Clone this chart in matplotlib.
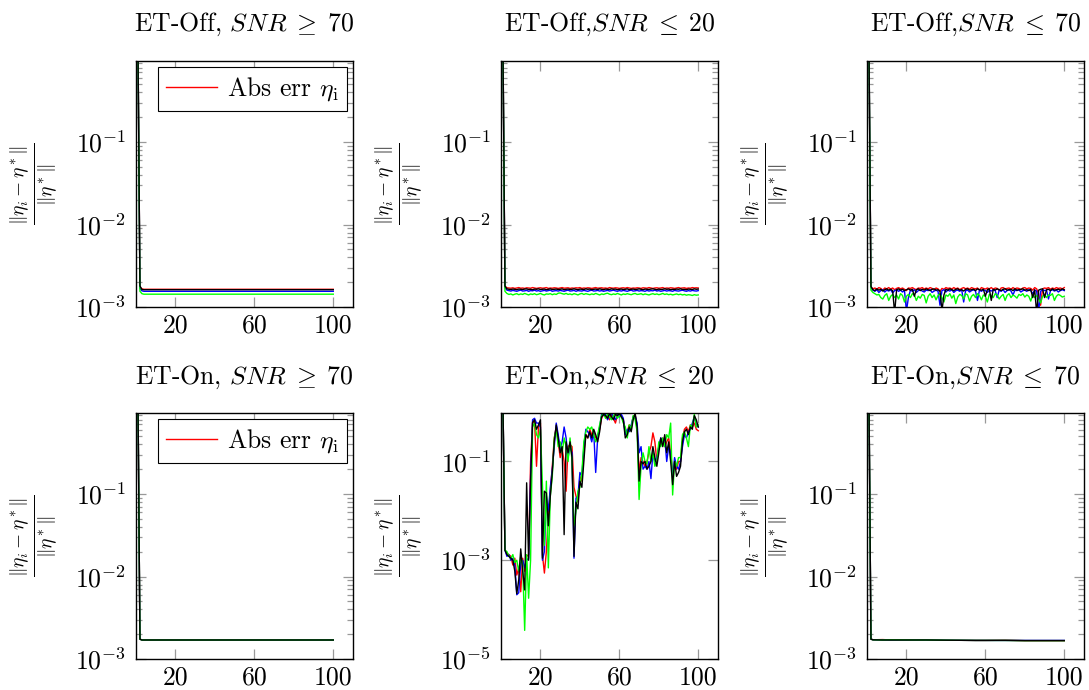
import numpy as np
import matplotlib.pyplot as plt
from matplotlib.ticker import LogLocator, NullLocator, NullFormatter

plt.rcParams['font.family'] = 'serif'
plt.rcParams['font.serif'] = ['cmr10']
plt.rcParams['mathtext.fontset'] = 'cm'
plt.rcParams['axes.formatter.use_mathtext'] = True
plt.rcParams['axes.unicode_minus'] = False

FS = 18.5
FS_LAB = 20

#----------------------------------------------------------------------
# data
#----------------------------------------------------------------------
iters = list(range(1, 101))
x_flat = [1, 2, 3, 4, 100]
x_br = [1, 2, 3, 8, 12, 25, 30, 40, 55, 60, 70, 80, 100]

# ET-Off, SNR >= 70
tl_red = [1.5, 1.75e-3, 1.66e-3, 1.64e-3, 1.64e-3]
tl_blue = [1.5, 1.68e-3, 1.57e-3, 1.55e-3, 1.55e-3]
tl_green = [1.5, 1.55e-3, 1.45e-3, 1.43e-3, 1.43e-3]
tl_black = [1.5, 1.80e-3, 1.63e-3, 1.62e-3, 1.62e-3]

# ET-On, SNR >= 70
bl_red = [1.5, 1.74e-3, 1.70e-3, 1.70e-3, 1.70e-3]
bl_blue = [1.5, 1.74e-3, 1.70e-3, 1.70e-3, 1.70e-3]
bl_green = [1.5, 1.74e-3, 1.70e-3, 1.70e-3, 1.70e-3]
bl_black = [1.5, 1.74e-3, 1.70e-3, 1.70e-3, 1.70e-3]

# ET-On, SNR <= 70
br_red = [1.5, 1.74e-3, 1.71e-3, 1.72e-3, 1.70e-3, 1.70e-3, 1.71e-3, 1.69e-3, 1.68e-3, 1.68e-3, 1.69e-3, 1.67e-3, 1.67e-3]
br_blue = [1.5, 1.74e-3, 1.71e-3, 1.70e-3, 1.70e-3, 1.70e-3, 1.70e-3, 1.69e-3, 1.68e-3, 1.68e-3, 1.68e-3, 1.68e-3, 1.68e-3]
br_green = [1.5, 1.74e-3, 1.71e-3, 1.70e-3, 1.71e-3, 1.70e-3, 1.70e-3, 1.69e-3, 1.68e-3, 1.68e-3, 1.68e-3, 1.67e-3, 1.67e-3]
br_black = [1.5, 1.74e-3, 1.71e-3, 1.70e-3, 1.70e-3, 1.70e-3, 1.70e-3, 1.69e-3, 1.68e-3, 1.68e-3, 1.68e-3, 1.67e-3, 1.67e-3]

# ET-Off, SNR <= 20  (values in units of 1e-3)
tm_red_m = [1500, 1.78, 1.71, 1.70, 1.69, 1.71, 1.68, 1.70, 1.72, 1.69,
            1.70, 1.68, 1.71, 1.70, 1.69, 1.72, 1.70, 1.68, 1.70, 1.71,
            1.69, 1.70, 1.72, 1.68, 1.70, 1.69, 1.71, 1.70, 1.68, 1.70,
            1.72, 1.69, 1.70, 1.71, 1.68, 1.70, 1.69, 1.71, 1.70, 1.72,
            1.68, 1.70, 1.69, 1.71, 1.70, 1.68, 1.70, 1.72, 1.69, 1.70,
            1.71, 1.69, 1.70, 1.68, 1.72, 1.70, 1.69, 1.71, 1.70, 1.68,
            1.70, 1.71, 1.69, 1.72, 1.70, 1.68, 1.70, 1.69, 1.71, 1.70,
            1.68, 1.71, 1.70, 1.69, 1.72, 1.70, 1.68, 1.70, 1.71, 1.69,
            1.70, 1.72, 1.68, 1.70, 1.69, 1.71, 1.70, 1.68, 1.70, 1.72,
            1.69, 1.70, 1.71, 1.68, 1.70, 1.69, 1.72, 1.70, 1.71, 1.70]
tm_black_m = [1500, 1.80, 1.66, 1.64, 1.63, 1.65, 1.64, 1.62, 1.65, 1.64,
              1.63, 1.65, 1.66, 1.63, 1.64, 1.62, 1.65, 1.64, 1.66, 1.63,
              1.64, 1.65, 1.62, 1.64, 1.66, 1.63, 1.64, 1.65, 1.63, 1.64,
              1.66, 1.62, 1.64, 1.65, 1.63, 1.64, 1.66, 1.64, 1.62, 1.65,
              1.64, 1.63, 1.66, 1.64, 1.65, 1.62, 1.64, 1.65, 1.63, 1.66,
              1.64, 1.62, 1.65, 1.64, 1.63, 1.66, 1.64, 1.65, 1.62, 1.64,
              1.65, 1.63, 1.64, 1.66, 1.62, 1.64, 1.65, 1.63, 1.64, 1.66,
              1.64, 1.62, 1.65, 1.64, 1.63, 1.65, 1.66, 1.64, 1.62, 1.65,
              1.63, 1.64, 1.66, 1.64, 1.65, 1.62, 1.64, 1.63, 1.65, 1.64,
              1.66, 1.63, 1.64, 1.62, 1.65, 1.64, 1.63, 1.66, 1.64, 1.65]
tm_blue_m = [1500, 1.72, 1.60, 1.58, 1.56, 1.59, 1.57, 1.55, 1.58, 1.60,
             1.56, 1.57, 1.59, 1.55, 1.58, 1.57, 1.60, 1.56, 1.58, 1.55,
             1.57, 1.59, 1.56, 1.58, 1.60, 1.55, 1.57, 1.58, 1.56, 1.59,
             1.57, 1.55, 1.58, 1.60, 1.56, 1.57, 1.59, 1.55, 1.58, 1.57,
             1.56, 1.59, 1.57, 1.55, 1.58, 1.60, 1.56, 1.57, 1.59, 1.56,
             1.58, 1.55, 1.57, 1.59, 1.56, 1.58, 1.60, 1.57, 1.55, 1.58,
             1.56, 1.59, 1.57, 1.55, 1.58, 1.60, 1.56, 1.57, 1.59, 1.56,
             1.58, 1.57, 1.55, 1.59, 1.56, 1.58, 1.57, 1.60, 1.56, 1.58,
             1.55, 1.57, 1.59, 1.56, 1.58, 1.57, 1.55, 1.59, 1.57, 1.56,
             1.58, 1.60, 1.57, 1.55, 1.58, 1.56, 1.59, 1.57, 1.56, 1.58]
tm_green_m = [1500, 1.55, 1.46, 1.42, 1.44, 1.40, 1.43, 1.45, 1.41, 1.44,
              1.42, 1.46, 1.43, 1.40, 1.44, 1.42, 1.45, 1.41, 1.43, 1.46,
              1.42, 1.40, 1.44, 1.43, 1.45, 1.41, 1.44, 1.42, 1.47, 1.48,
              1.45, 1.43, 1.46, 1.42, 1.44, 1.41, 1.45, 1.43, 1.40, 1.44,
              1.46, 1.42, 1.45, 1.43, 1.41, 1.44, 1.42, 1.46, 1.43, 1.40,
              1.44, 1.42, 1.45, 1.47, 1.43, 1.41, 1.44, 1.42, 1.46, 1.43,
              1.40, 1.44, 1.42, 1.45, 1.43, 1.41, 1.44, 1.46, 1.42, 1.43,
              1.45, 1.41, 1.44, 1.42, 1.40, 1.43, 1.45, 1.42, 1.44, 1.41,
              1.43, 1.46, 1.42, 1.44, 1.41, 1.43, 1.40, 1.42, 1.44, 1.41,
              1.43, 1.40, 1.42, 1.39, 1.41, 1.40, 1.38, 1.41, 1.39, 1.40]

# ET-Off, SNR <= 70  (values in units of 1e-3)
tr_red_m = [1500, 1.75, 1.66, 1.70, 1.64, 1.72, 1.68, 1.60, 1.70, 1.66,
            1.72, 1.65, 1.70, 1.62, 1.68, 1.72, 1.66, 1.70, 1.64, 1.58,
            1.70, 1.68, 1.72, 1.66, 1.62, 1.70, 1.68, 1.72, 1.65, 1.70,
            1.66, 1.72, 1.68, 1.60, 1.70, 1.66, 1.55, 1.68, 1.64, 1.72,
            1.68, 1.70, 1.65, 1.72, 1.66, 1.70, 1.62, 1.68, 1.72, 1.66,
            1.70, 1.64, 1.72, 1.68, 1.66, 1.70, 1.60, 1.72, 1.68, 1.65,
            1.70, 1.66, 1.72, 1.64, 1.70, 1.68, 1.58, 1.70, 1.72, 1.66,
            1.68, 1.70, 1.64, 1.72, 1.66, 1.70, 1.68, 1.62, 1.70, 1.72,
            1.66, 1.70, 1.68, 1.60, 1.72, 1.66, 1.45, 1.05, 1.66, 1.70,
            1.68, 1.72, 1.64, 1.70, 1.66, 1.72, 1.68, 1.70, 1.66, 1.72]
tr_blue_m = [1500, 1.72, 1.60, 1.55, 1.62, 1.50, 1.58, 1.62, 1.52, 1.60,
             1.56, 1.62, 1.48, 1.58, 1.62, 1.55, 1.60, 1.52, 1.58, 0.90,
             1.30, 1.60, 1.55, 1.62, 1.50, 1.58, 1.62, 1.56, 1.52, 1.60,
             1.58, 1.62, 1.50, 1.56, 1.60, 1.55, 1.05, 1.58, 1.62, 1.52,
             1.60, 1.56, 1.62, 1.50, 1.58, 1.60, 1.55, 1.62, 1.15, 1.58,
             1.60, 1.52, 1.58, 1.62, 1.56, 1.20, 1.60, 1.55, 1.62, 1.58,
             1.50, 1.60, 1.56, 1.62, 1.58, 1.30, 1.60, 1.55, 1.62, 1.50,
             1.58, 1.62, 1.56, 1.40, 1.60, 1.58, 1.62, 1.52, 1.58, 1.60,
             1.55, 1.62, 1.58, 1.45, 1.60, 1.56, 0.88, 1.55, 1.62, 1.58,
             1.60, 1.25, 1.58, 1.62, 1.56, 1.60, 1.52, 1.58, 1.62, 1.58]
tr_green_m = [1500, 1.60, 1.50, 1.45, 1.40, 1.42, 1.30, 1.25, 1.38, 1.45,
              1.20, 1.35, 1.42, 1.30, 1.40, 1.25, 1.45, 1.38, 1.15, 1.35,
              1.42, 1.30, 1.45, 1.40, 1.20, 1.35, 1.28, 1.42, 1.38, 1.12,
              1.35, 1.45, 1.30, 1.40, 1.22, 1.38, 1.45, 1.30, 1.15, 1.40,
              1.35, 1.45, 1.28, 1.40, 1.10, 1.32, 1.42, 1.38, 1.25, 1.45,
              1.40, 1.18, 1.35, 1.42, 1.30, 1.45, 1.38, 1.22, 1.40, 1.35,
              1.15, 1.42, 1.38, 1.30, 1.45, 1.40, 1.25, 1.35, 1.42, 1.20,
              1.38, 1.45, 1.30, 1.40, 1.35, 1.28, 1.42, 1.38, 1.45, 1.32,
              1.40, 1.35, 1.18, 1.42, 1.30, 1.38, 1.25, 1.12, 1.35, 1.42,
              1.30, 1.40, 1.38, 1.45, 1.20, 1.35, 1.42, 1.38, 1.32, 1.35]
tr_black_m = [1500, 1.78, 1.62, 1.58, 1.66, 1.60, 1.64, 1.56, 1.62, 1.66,
              1.60, 1.64, 1.58, 0.85, 1.62, 1.66, 1.60, 1.64, 1.58, 1.62,
              1.66, 1.60, 1.64, 1.35, 1.62, 1.66, 1.58, 1.64, 1.60, 1.66,
              1.62, 1.58, 1.64, 1.66, 1.60, 1.62, 1.56, 0.90, 1.40, 1.64,
              1.60, 1.66, 1.62, 1.58, 1.64, 1.66, 1.60, 1.62, 1.56, 1.64,
              1.66, 1.60, 1.62, 1.64, 1.58, 1.66, 1.62, 1.60, 1.64, 1.35,
              1.62, 1.66, 1.20, 1.64, 1.60, 1.66, 1.62, 1.58, 1.64, 1.66,
              1.60, 1.62, 1.64, 1.58, 1.66, 1.60, 1.62, 1.64, 1.66, 1.60,
              1.62, 1.58, 1.64, 1.30, 1.62, 0.85, 1.60, 1.64, 1.66, 1.30,
              1.62, 1.64, 1.58, 1.66, 1.60, 1.62, 1.64, 1.60, 1.66, 1.62]

# ET-On, SNR <= 20
bm_red = [1.5, 1.6e-3, 1.4e-3, 1.3e-3, 1.2e-3, 8e-4, 1.1e-3, 5e-4, 7e-4, 2.3e-4,
          1.1e-3, 6e-4, 1.2e-3, 1.3e-3, 0.1, 0.6, 0.65, 8e-2, 0.5, 0.6,
          1.3e-3, 5.5e-4, 1.5e-3, 8e-3, 2.5e-2, 8e-2, 0.3, 0.5, 0.25, 0.12,
          0.18, 0.1, 2.5e-2, 0.2, 0.22, 0.2, 3e-2, 2e-2, 1.5e-2, 5e-2,
          4e-2, 0.15, 0.35, 0.3, 0.45, 0.35, 0.4, 0.3, 0.3, 0.45,
          0.75, 0.9, 0.8, 0.85, 0.7, 0.9, 0.75, 0.6, 0.85, 0.9,
          0.85, 0.7, 0.4, 0.4, 0.55, 0.5, 0.8, 0.9, 0.45, 6e-2,
          0.12, 0.1, 0.08, 0.1, 0.15, 0.2, 0.38, 0.25, 0.1, 0.2,
          0.25, 0.3, 0.2, 0.25, 0.3, 0.15, 6e-2, 8e-2, 7e-2, 0.1,
          0.1, 0.3, 0.45, 0.5, 0.4, 0.55, 0.5, 0.6, 0.45, 0.42]
bm_blue = [1.5, 1.6e-3, 1.2e-3, 1.3e-3, 1.0e-3, 1.1e-3, 8e-4, 2e-4, 2.2e-4, 9e-4,
           1.0e-3, 7e-4, 1.0e-3, 1.1e-3, 5e-2, 0.7, 0.75, 0.6, 0.6, 0.5,
           1.0e-3, 1.5e-3, 2e-2, 1.0e-2, 3e-2, 7e-2, 0.2, 0.6, 0.35, 0.18,
           0.25, 0.5, 0.3, 0.12, 0.2, 0.15, 1.1e-3, 1.8e-2, 2e-2, 6e-2,
           5e-2, 0.2, 0.45, 0.4, 0.35, 0.25, 0.4, 6e-2, 0.3, 0.5,
           0.9, 0.85, 0.9, 0.7, 0.85, 0.95, 0.8, 0.7, 0.9, 0.8,
           0.9, 0.75, 0.35, 0.45, 0.4, 0.55, 0.8, 0.85, 0.6, 0.15,
           0.2, 0.07, 0.08, 0.07, 0.1, 4.5e-2, 0.15, 0.1, 0.12, 0.2,
           0.3, 0.25, 0.3, 0.1, 0.2, 0.15, 0.05, 0.12, 0.08, 0.07,
           0.1, 0.2, 0.35, 0.3, 0.4, 0.45, 0.6, 0.8, 0.55, 0.5]
bm_green = [1.5, 1.6e-3, 1.5e-3, 1.2e-3, 1.1e-3, 1.3e-3, 9e-4, 1.0e-3, 6e-4, 1.2e-3,
            8e-4, 3.8e-5, 1.3e-3, 1.7e-4, 1.0e-3, 0.5, 0.6, 0.35, 0.3, 0.45,
            3.4e-2, 2e-3, 4e-2, 7e-4, 2e-2, 5e-2, 0.3, 0.45, 0.2, 0.25,
            0.15, 0.3, 0.2, 0.1, 0.3, 0.1, 5e-3, 1e-2, 2.5e-2, 3e-2,
            6e-2, 0.25, 0.4, 0.5, 0.45, 0.5, 0.35, 0.25, 0.35, 0.55,
            0.85, 0.95, 0.75, 0.9, 0.8, 0.7, 0.85, 0.95, 0.75, 0.85,
            0.8, 0.6, 0.5, 0.3, 0.55, 0.45, 0.85, 0.7, 0.4, 1.7e-2,
            0.08, 0.15, 0.1, 0.09, 0.2, 0.1, 0.15, 0.08, 0.1, 0.25,
            0.2, 0.3, 0.2, 0.35, 0.3, 0.6, 2.1e-2, 0.1, 0.08, 0.12,
            0.12, 0.35, 0.4, 0.3, 0.2, 0.55, 0.5, 0.9, 0.5, 0.55]
bm_black = [1.5, 1.6e-3, 1.3e-3, 1.2e-3, 1.1e-3, 1.0e-3, 6e-4, 2.1e-4, 4e-4, 1.7e-3,
            6e-4, 2.5e-4, 3.7e-2, 1.0e-3, 4e-2, 0.62, 0.7, 0.45, 0.55, 0.7,
            1.1e-3, 2.5e-2, 2.3e-2, 5e-3, 2e-2, 6e-2, 0.25, 0.55, 0.3, 0.15,
            0.2, 3.3e-3, 0.25, 0.15, 0.25, 0.12, 1.2e-3, 1.5e-2, 1.1e-2, 4e-2,
            3e-2, 0.1, 0.35, 0.3, 0.4, 0.3, 0.45, 0.35, 0.25, 0.4,
            0.8, 0.9, 0.85, 0.75, 0.95, 0.8, 0.7, 0.9, 0.85, 0.95,
            0.8, 0.7, 0.3, 0.35, 0.5, 0.4, 0.7, 0.95, 0.5, 4e-2,
            0.1, 0.09, 0.1, 0.07, 0.08, 0.1, 0.2, 0.12, 0.08, 0.15,
            0.3, 0.2, 0.35, 0.15, 0.25, 0.1, 3.4e-2, 0.1, 5e-2, 6e-2,
            8e-2, 0.25, 0.4, 0.45, 0.35, 0.5, 0.45, 0.85, 0.7, 0.5]

titles = [[r'ET-Off, $SNR \;\geq\; 70$', r'ET-Off,$SNR \;\leq\; 20$', r'ET-Off,$SNR \;\leq\; 70$'],
          [r'ET-On, $SNR \;\geq\; 70$', r'ET-On,$SNR \;\leq\; 20$', r'ET-On,$SNR \;\leq\; 70$']]
ylabel = r'$\frac{\|\eta_i - \eta^*\|}{\|\eta^*\|}$'
legend_label = r'Abs err $\eta_{\rm i}$'
xticks = [20, 60, 100]
yticks_1 = [1e-3, 1e-2, 1e-1]
yticks_1_lab = [r'$10^{-3}$', r'$10^{-2}$', r'$10^{-1}$']
yticks_2 = [1e-5, 1e-3, 1e-1]
yticks_2_lab = [r'$10^{-5}$', r'$10^{-3}$', r'$10^{-1}$']

colors = ['red', 'blue', '#00ff00', 'black']

panels = [
    [(x_flat, [tl_red, tl_blue, tl_green, tl_black], 1.0),
     (iters, [tm_red_m, tm_blue_m, tm_green_m, tm_black_m], 1e-3),
     (iters, [tr_red_m, tr_blue_m, tr_green_m, tr_black_m], 1e-3)],
    [(x_flat, [bl_red, bl_blue, bl_green, bl_black], 1.0),
     (iters, [bm_red, bm_blue, bm_green, bm_black], 1.0),
     (x_br, [br_red, br_blue, br_green, br_black], 1.0)],
]

#----------------------------------------------------------------------
# layout (pixels of the 1089x690 figure)
#----------------------------------------------------------------------
W, H = 1089, 690
col_left = [136, 501, 867]
ax_w = 217
row_top = [61, 413]
ax_h = 246

fig = plt.figure(figsize=(W / 100, H / 100), dpi=100)

for r in range(2):
    for c in range(3):
        rect = [col_left[c] / W, 1 - (row_top[r] + ax_h) / H, ax_w / W, ax_h / H]
        ax = fig.add_axes(rect)
        xs, series, scale = panels[r][c]
        for col, ys in zip(colors, series):
            ax.plot(xs, np.array(ys) * scale, color=col, lw=1.0)
        ax.set_yscale('log')
        ax.set_xlim(0, 110)
        ax.set_ylim(1e-5 if (r, c) == (1, 1) else 1e-3, 0.96)
        ax.set_xticks(xticks, labels=[str(t) for t in xticks])
        if (r, c) == (1, 1):
            ax.set_yticks(yticks_2, labels=yticks_2_lab)
            ax.yaxis.set_minor_locator(NullLocator())
        else:
            ax.set_yticks(yticks_1, labels=yticks_1_lab)
            ax.yaxis.set_minor_locator(LogLocator(base=10, subs=np.arange(2, 10)))
        ax.yaxis.set_minor_formatter(NullFormatter())
        ax.tick_params(which='both', direction='in', top=True, right=True,
                       color='0.6', width=0.9, labelsize=FS, pad=7)
        ax.tick_params(axis='x', pad=5)
        ax.tick_params(which='major', length=7)
        ax.tick_params(which='minor', length=4)
        for s in ax.spines.values():
            s.set_linewidth(1.0)
        ax.set_title(titles[r][c], fontsize=FS, pad=21.5 if r == 0 else 21)
        ax.set_ylabel(ylabel, fontsize=FS_LAB)
        ax.yaxis.set_label_coords(-0.35, 0.5)
        if c == 0:
            ax.legend([legend_label], loc='upper right', fontsize=FS,
                      fancybox=False, edgecolor='black', framealpha=1,
                      borderaxespad=0.25, handlelength=2.0, handletextpad=0.4,
                      borderpad=0.3).get_frame().set_linewidth(0.8)

fig.savefig('out.png', dpi=100)
